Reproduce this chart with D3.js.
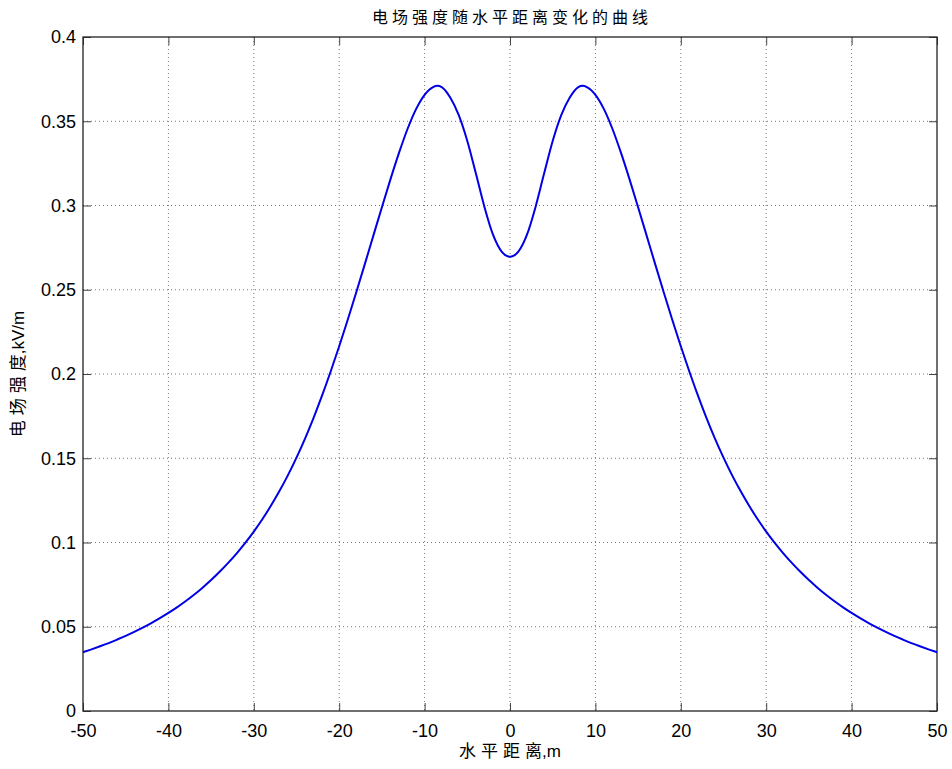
<!DOCTYPE html>
<html>
<head>
<meta charset="utf-8">
<script src="https://cdn.jsdelivr.net/npm/d3@7"></script>
<style>
    body { margin: 0; background: #fff; }
    svg text { font-family: "Liberation Sans", Arial, "Noto Sans CJK SC", sans-serif; }
</style>
</head>
<body>
<div id="box-div"></div>
<script>
// 水平距离 (m)
const distance = [
    -50, -49, -48, -47, -46, -45, -44, -43, -42, -41, -40, -39, -38, -37, -36, -35, -34, -33, -32, -31,
    -30, -29, -28, -27, -26, -25, -24, -23, -22, -21, -20, -19, -18, -17, -16, -15, -14, -13, -12, -11,
    -10, -9, -8.5, -8, -7, -6, -5, -4, -3, -2, -1, 0,
    1, 2, 3, 4, 5, 6, 7, 8, 8.5, 9, 10,
    11, 12, 13, 14, 15, 16, 17, 18, 19, 20, 21, 22, 23, 24, 25, 26, 27, 28, 29, 30,
    31, 32, 33, 34, 35, 36, 37, 38, 39, 40, 41, 42, 43, 44, 45, 46, 47, 48, 49, 50
]
// 电场强度 (kV/m)
const field = [
    0.0349, 0.0366, 0.0384, 0.0403, 0.0424, 0.0446, 0.0470, 0.0495, 0.0522, 0.0551, 0.0582, 0.0615, 0.0651, 0.0690, 0.0732, 0.0777, 0.0826, 0.0879, 0.0936, 0.0998,
    0.1065, 0.1138, 0.1218, 0.1305, 0.1400, 0.1504, 0.1617, 0.1740, 0.1873, 0.2015, 0.2165, 0.2322, 0.2485, 0.2652, 0.2821, 0.2990, 0.3155, 0.3312, 0.3454, 0.3572,
    0.3657, 0.3703, 0.3710, 0.3703, 0.3641, 0.3536, 0.3383, 0.3191, 0.2993, 0.2828, 0.2728, 0.2696,
    0.2728, 0.2828, 0.2993, 0.3191, 0.3383, 0.3536, 0.3641, 0.3703, 0.3710, 0.3703, 0.3657,
    0.3572, 0.3454, 0.3312, 0.3155, 0.2990, 0.2821, 0.2652, 0.2485, 0.2322, 0.2165, 0.2015, 0.1873, 0.1740, 0.1617, 0.1504, 0.1400, 0.1305, 0.1218, 0.1138, 0.1065,
    0.0998, 0.0936, 0.0879, 0.0826, 0.0777, 0.0732, 0.0690, 0.0651, 0.0615, 0.0582, 0.0551, 0.0522, 0.0495, 0.0470, 0.0446, 0.0424, 0.0403, 0.0384, 0.0366, 0.0349
]
const xTicks = [-50, -40, -30, -20, -10, 0, 10, 20, 30, 40, 50]
const yTicks = [0, 0.05, 0.1, 0.15, 0.2, 0.25, 0.3, 0.35, 0.4]

const titleText = '电场强度随水平距离变化的曲线'
const xLabel = '水平距离,m'
const yLabel = '电场强度,kV/m'

let dms = {
    width: 952,
    height: 769,
    margin: { top: 37, right: 15, bottom: 58, left: 83 }
}
dms.chartWidth = dms.width - dms.margin.left - dms.margin.right
dms.chartHeight = dms.height - dms.margin.top - dms.margin.bottom

const data = distance.map((d, i) => ({ x: d, y: field[i] }))

const box = d3.select('#box-div').append('svg')
    .attr('width', dms.width)
    .attr('height', dms.height)

const content = box.append('g')
    .attr('transform', `translate(${dms.margin.left}, ${dms.margin.top})`)

const xScale = d3.scaleLinear().domain([-50, 50]).range([0, dms.chartWidth])
const yScale = d3.scaleLinear().domain([0, 0.4]).range([dms.chartHeight, 0])

// 网格线
content.append('g').attr('class', 'grid-x')
    .selectAll('line').data(xTicks.slice(1, -1)).enter().append('line')
    .attr('x1', d => xScale(d)).attr('x2', d => xScale(d))
    .attr('y1', 0).attr('y2', dms.chartHeight)
content.append('g').attr('class', 'grid-y')
    .selectAll('line').data(yTicks.slice(1, -1)).enter().append('line')
    .attr('x1', 0).attr('x2', dms.chartWidth)
    .attr('y1', d => yScale(d)).attr('y2', d => yScale(d))
content.selectAll('.grid-x line, .grid-y line')
    .attr('stroke', '#777')
    .attr('stroke-width', 1)
    .attr('stroke-dasharray', '1,3')

// 坐标轴 (刻度向内)
const fmt = d => String(d)
content.append('g').attr('class', 'axis-x')
    .attr('transform', `translate(0, ${dms.chartHeight})`)
    .call(d3.axisBottom(xScale).tickValues(xTicks).tickFormat(fmt).tickSizeInner(-8).tickSizeOuter(0).tickPadding(13))
content.append('g').attr('class', 'axis-x-top')
    .call(d3.axisTop(xScale).tickValues(xTicks).tickFormat('').tickSizeInner(-8).tickSizeOuter(0))
content.append('g').attr('class', 'axis-y')
    .call(d3.axisLeft(yScale).tickValues(yTicks).tickFormat(fmt).tickSizeInner(-8).tickSizeOuter(0).tickPadding(7))
content.append('g').attr('class', 'axis-y-right')
    .attr('transform', `translate(${dms.chartWidth}, 0)`)
    .call(d3.axisRight(yScale).tickValues(yTicks).tickFormat('').tickSizeInner(-8).tickSizeOuter(0))

content.selectAll('.domain').remove()
content.selectAll('.tick line').attr('stroke', '#444')
content.selectAll('.tick text')
    .attr('fill', '#000')
    .style('font-size', '18px')

// 边框
content.append('rect')
    .attr('x', 0).attr('y', 0)
    .attr('width', dms.chartWidth).attr('height', dms.chartHeight)
    .attr('fill', 'none')
    .attr('stroke', '#222')
    .attr('stroke-width', 1.3)

// 曲线
const line = d3.line()
    .x(d => xScale(d.x))
    .y(d => yScale(d.y))
    .curve(d3.curveMonotoneX)
content.append('path')
    .datum(data)
    .attr('d', line)
    .attr('fill', 'none')
    .attr('stroke', '#0000e6')
    .attr('stroke-width', 2)

// 中文部分加字距 (最后一个字和单位不加)
const addLabel = (sel, str, sp) => {
    const i = str.indexOf(',')
    const cut = i < 0 ? str.length - 1 : i - 1
    sel.append('tspan').style('letter-spacing', sp).text(str.slice(0, cut))
    sel.append('tspan').text(str.slice(cut))
}

// 标题
const title = content.append('text')
    .attr('x', dms.chartWidth / 2)
    .attr('y', -14)
    .attr('text-anchor', 'middle')
    .style('font-size', '16px')
addLabel(title, titleText, '4px')
// x轴标题
const xTitle = content.append('text')
    .attr('x', dms.chartWidth / 2)
    .attr('y', dms.chartHeight + 46)
    .attr('text-anchor', 'middle')
    .style('font-size', '17px')
addLabel(xTitle, xLabel, '5px')
// y轴标题
const yTitle = content.append('text')
    .attr('x', -dms.chartHeight / 2)
    .attr('y', -59)
    .attr('text-anchor', 'middle')
    .attr('transform', 'rotate(-90)')
    .style('font-size', '17px')
addLabel(yTitle, yLabel, '5px')
</script>
</body>
</html>
